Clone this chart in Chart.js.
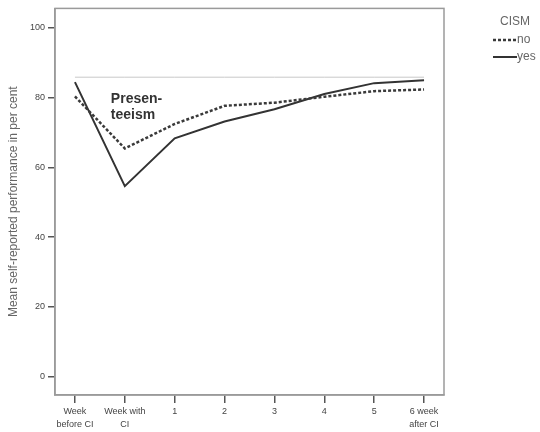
<!DOCTYPE html>
<html>
<head>
<meta charset="utf-8">
<script src="https://cdn.jsdelivr.net/npm/chart.js@4/dist/chart.umd.min.js"></script>
<style>
  html, body { margin: 0; padding: 0; background: #fff; }
  #wrap { width: 540px; height: 432px; }
</style>
</head>
<body>
<div id="wrap"><canvas id="presenteeismChart" width="540" height="432"></canvas></div>
<script>
// data
const weeks = [['Week', 'before CI'], ['Week with', 'CI'], '1', '2', '3', '4', '5', ['6 week', 'after CI']];
const cismNo = [80.3, 65.4, 72.4, 77.6, 78.5, 80.2, 81.8, 82.3];
const cismYes = [84.4, 54.6, 68.3, 73.1, 76.6, 81.0, 84.1, 84.9];
const baseline = [85.8, 85.8, 85.8, 85.8, 85.8, 85.8, 85.8, 85.8];
const yTicks = [0, 20, 40, 60, 80, 100];

const pts = arr => arr.map((v, i) => ({ x: i, y: v }));

const FONT = "'Liberation Sans', Arial, sans-serif";

// plot frame, "Presenteeism" label and the CISM legend
const extras = {
    id: 'extras',
    afterDraw(chart) {
        const { ctx, chartArea: a, scales } = chart;
        ctx.save();
        ctx.strokeStyle = '#9a9a9a';
        ctx.lineWidth = 1.5;
        ctx.strokeRect(a.left, a.top, a.right - a.left, a.bottom - a.top);

        ctx.fillStyle = '#333';
        ctx.font = 'bold 14px ' + FONT;
        ctx.textBaseline = 'alphabetic';
        const tx = scales.x.getPixelForValue(0.72);
        ctx.fillText('Presen-', tx, scales.y.getPixelForValue(78.4));
        ctx.fillText('teeism', tx, scales.y.getPixelForValue(73.9));

        // legend
        const lx = a.right + 49;
        ctx.fillStyle = '#666';
        ctx.font = '12px ' + FONT;
        ctx.textBaseline = 'middle';
        ctx.fillText('CISM', lx + 7, 22);
        const items = chart.data.datasets.filter(d => d.label);
        items.forEach((d, i) => {
            const y = 40 + i * 17;
            ctx.strokeStyle = d.borderColor;
            ctx.lineWidth = d.borderWidth;
            ctx.setLineDash(d.borderDash || []);
            ctx.beginPath();
            ctx.moveTo(lx, y);
            ctx.lineTo(lx + 24, y);
            ctx.stroke();
            ctx.setLineDash([]);
            ctx.fillStyle = '#666';
            ctx.fillText(d.label, lx + 24, y);
        });
        ctx.restore();
    }
};

const ctx = document.getElementById('presenteeismChart').getContext('2d');
const chart = new Chart(ctx, {
    type: 'line',
    data: {
        datasets: [
            {
                data: pts(baseline),
                borderColor: '#c8c8c8',
                borderWidth: 1,
                pointRadius: 0
            },
            {
                label: 'no',
                data: pts(cismNo),
                borderColor: '#3a3a3a',
                borderWidth: 2.5,
                borderDash: [3, 2],
                pointRadius: 0
            },
            {
                label: 'yes',
                data: pts(cismYes),
                borderColor: '#333',
                borderWidth: 2,
                pointRadius: 0
            }
        ]
    },
    options: {
        responsive: false,
        animation: false,
        layout: { padding: { left: 0, top: 6, right: 96, bottom: 0 } },
        plugins: {
            legend: { display: false },
            tooltip: { enabled: false }
        },
        scales: {
            x: {
                type: 'linear',
                min: -0.4,
                max: 7.4,
                afterBuildTicks: s => { s.ticks = weeks.map((_, i) => ({ value: i })); },
                afterFit: s => { s.height = 37; },
                ticks: {
                    color: '#444',
                    font: { family: FONT, size: 9 , lineHeight: 1.45 },
                    padding: 2,
                    maxRotation: 0,
                    autoSkip: false,
                    callback: v => weeks[v]
                },
                grid: { drawOnChartArea: false, drawTicks: true, tickLength: 8, color: '#555', lineWidth: 1.5 },
                border: { color: '#9a9a9a', width: 1.5 }
            },
            y: {
                min: -5.2,
                max: 105.5,
                afterBuildTicks: s => { s.ticks = yTicks.map(v => ({ value: v })); },
                afterFit: s => { s.width = 55; },
                ticks: {
                    color: '#444',
                    font: { family: FONT, size: 9 },
                    padding: 3
                },
                grid: { drawOnChartArea: false, drawTicks: true, tickLength: 7, color: '#555', lineWidth: 1.5 },
                border: { color: '#9a9a9a', width: 1.5 },
                title: {
                    display: true,
                    text: 'Mean self-reported performance in per cent',
                    color: '#666',
                    font: { family: FONT, size: 12 },
                    padding: { top: 6, bottom: 0 }
                }
            }
        }
    },
    plugins: [extras]
});
</script>
</body>
</html>
